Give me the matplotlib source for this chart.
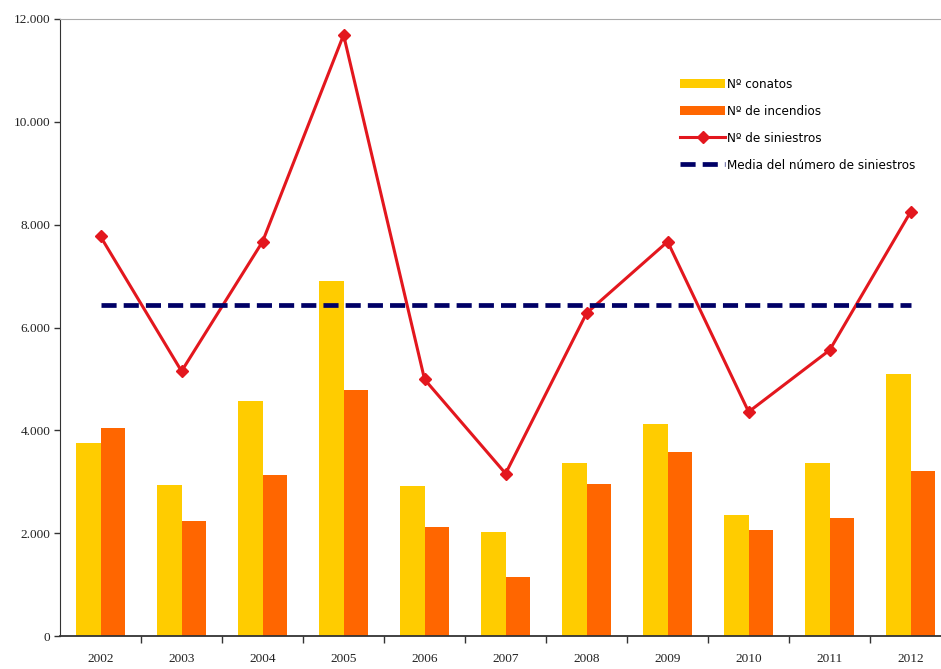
import numpy as np
import matplotlib
matplotlib.use("Agg")
import matplotlib.pyplot as plt
from matplotlib.ticker import FuncFormatter
from matplotlib.font_manager import FontProperties

# Data
years = ["2002", "2003", "2004", "2005", "2006", "2007", "2008", "2009", "2010", "2011", "2012"]
conatos = [3750, 2940, 4570, 6900, 2920, 2015, 3360, 4120, 2355, 3370, 5095]
incendios = [4040, 2230, 3130, 4790, 2125, 1155, 2955, 3585, 2060, 2290, 3215]
siniestros = [7770, 5150, 7670, 11690, 4990, 3160, 6280, 7670, 4360, 5560, 8250]
media_siniestros = 6430

labels = ["Nº conatos", "Nº de incendios", "Nº de siniestros", "Media del número de siniestros"]

yellow = "#FFCC00"
orange = "#FF6600"
red = "#E3171E"
navy = "#000066"

fig = plt.figure(figsize=(9.41, 6.69), dpi=100)
ax = fig.add_axes([0.0638, 0.0493, 0.947, 0.9223])

x = np.arange(len(years))
w = 0.3
b1 = ax.bar(x - w / 2, conatos, w, color=yellow, label=labels[0])
b2 = ax.bar(x + w / 2, incendios, w, color=orange, label=labels[1])
l1, = ax.plot(x, siniestros, color=red, lw=2.2, marker="D", markersize=6, label=labels[2])
l2, = ax.plot(x, [media_siniestros] * len(x), color=navy, lw=3.4, dashes=(3.2, 1.5), label=labels[3])

ax.set_xlim(-0.5, 10.5)
ax.set_ylim(0, 12000)
ax.set_yticks(range(0, 12001, 2000))
ax.yaxis.set_major_formatter(FuncFormatter(lambda v, p: f"{int(v):,}".replace(",", ".")))

# labels at category centres, tick marks at category boundaries
ax.set_xticks(x)
ax.set_xticklabels(years)
ax.set_xticks(np.arange(0.5, len(years) - 0.5, 1), minor=True)
ax.tick_params(axis="x", which="major", length=0, pad=12)
ax.tick_params(axis="x", which="minor", length=5, width=1, color="#333333")
ax.tick_params(axis="y", length=4, width=1, color="#333333", pad=3)
for lab in ax.get_xticklabels() + ax.get_yticklabels():
    lab.set_family(["Liberation Serif", "DejaVu Serif"])
    lab.set_fontsize(9.5)
    lab.set_color("#222222")

ax.spines["right"].set_visible(False)
ax.spines["top"].set_color("#aaaaaa")
ax.spines["left"].set_color("#333333")
ax.spines["bottom"].set_color("#333333")
ax.spines["bottom"].set_linewidth(1.3)

legend_font = FontProperties(family="DejaVu Sans", stretch="condensed", size=9.5)
leg = ax.legend(handles=[b1, b2, l1, l2], loc="upper left",
                bbox_to_anchor=(0.716, 0.893), bbox_transform=fig.transFigure,
                frameon=False, handlelength=3.4, handleheight=0.7, handletextpad=0.15,
                labelspacing=1.05, borderpad=0, prop=legend_font)

fig.savefig("out.png", dpi=100)
